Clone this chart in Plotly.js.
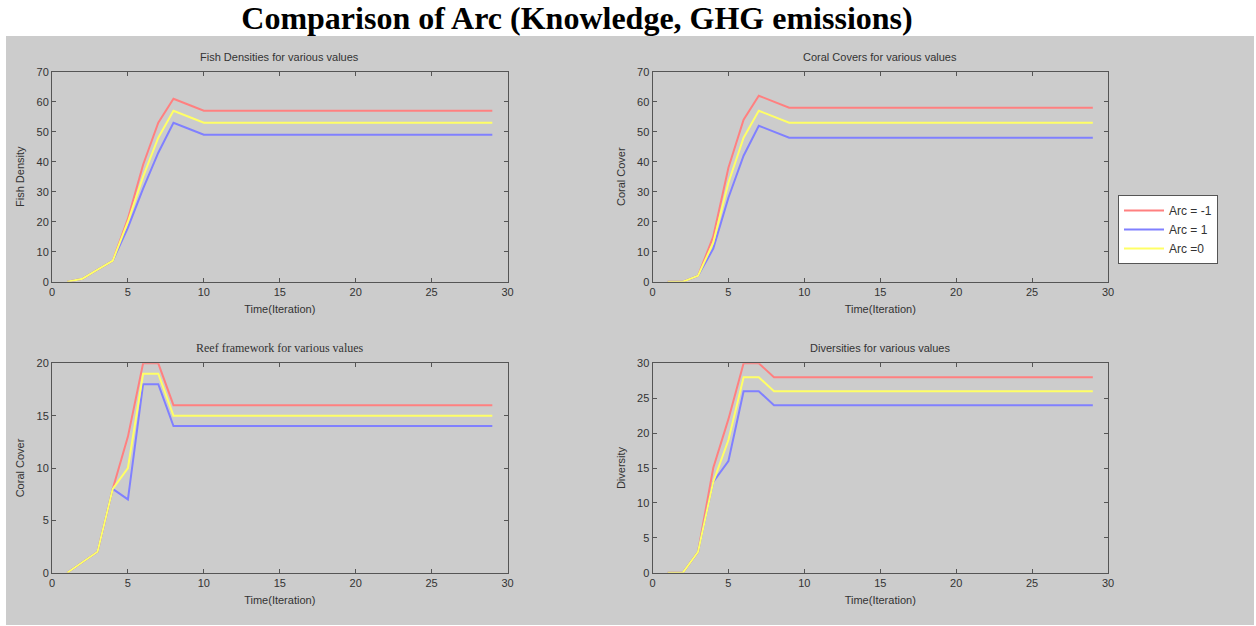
<!DOCTYPE html>
<html>
<head>
<meta charset="utf-8">
<script src="https://cdn.plot.ly/plotly-3.0.1.min.js"></script>
<style>
  html, body { margin: 0; padding: 0; background: #ffffff; }
  #chart { width: 1256px; height: 626px; }
</style>
</head>
<body>
<div id="chart"></div>
<script>
// Iteration index shared by all four panels
const iterations = [1, 2, 3, 4, 5, 6, 7, 8, 9, 10, 11, 12, 13, 14, 15, 16, 17, 18, 19, 20, 21, 22, 23, 24, 25, 26, 27, 28, 29];

const seriesNames = ['Arc = -1', 'Arc = 1', 'Arc =0'];

// Fish density per iteration
const fishArcMinus1 = [0, 1, 4, 7, 21, 39, 53, 61, 59, 57, 57, 57, 57, 57, 57, 57, 57, 57, 57, 57, 57, 57, 57, 57, 57, 57, 57, 57, 57];
const fishArc1      = [0, 1, 4, 7, 18, 31, 43, 53, 51, 49, 49, 49, 49, 49, 49, 49, 49, 49, 49, 49, 49, 49, 49, 49, 49, 49, 49, 49, 49];
const fishArc0      = [0, 1, 4, 7, 20, 35, 48, 57, 55, 53, 53, 53, 53, 53, 53, 53, 53, 53, 53, 53, 53, 53, 53, 53, 53, 53, 53, 53, 53];

// Coral cover per iteration
const coralArcMinus1 = [0, 0, 2, 15, 38, 54, 62, 60, 58, 58, 58, 58, 58, 58, 58, 58, 58, 58, 58, 58, 58, 58, 58, 58, 58, 58, 58, 58, 58];
const coralArc1      = [0, 0, 2, 11, 28, 42, 52, 50, 48, 48, 48, 48, 48, 48, 48, 48, 48, 48, 48, 48, 48, 48, 48, 48, 48, 48, 48, 48, 48];
const coralArc0      = [0, 0, 2, 13, 33, 48, 57, 55, 53, 53, 53, 53, 53, 53, 53, 53, 53, 53, 53, 53, 53, 53, 53, 53, 53, 53, 53, 53, 53];

// Reef framework per iteration
const reefArcMinus1 = [0, 1, 2, 8, 13, 20, 20, 16, 16, 16, 16, 16, 16, 16, 16, 16, 16, 16, 16, 16, 16, 16, 16, 16, 16, 16, 16, 16, 16];
const reefArc1      = [0, 1, 2, 8, 7, 18, 18, 14, 14, 14, 14, 14, 14, 14, 14, 14, 14, 14, 14, 14, 14, 14, 14, 14, 14, 14, 14, 14, 14];
const reefArc0      = [0, 1, 2, 8, 10, 19, 19, 15, 15, 15, 15, 15, 15, 15, 15, 15, 15, 15, 15, 15, 15, 15, 15, 15, 15, 15, 15, 15, 15];

// Diversity per iteration
const divArcMinus1 = [0, 0, 3, 15, 22, 30, 30, 28, 28, 28, 28, 28, 28, 28, 28, 28, 28, 28, 28, 28, 28, 28, 28, 28, 28, 28, 28, 28, 28];
const divArc1      = [0, 0, 3, 13, 16, 26, 26, 24, 24, 24, 24, 24, 24, 24, 24, 24, 24, 24, 24, 24, 24, 24, 24, 24, 24, 24, 24, 24, 24];
const divArc0      = [0, 0, 3, 13, 19, 28, 28, 26, 26, 26, 26, 26, 26, 26, 26, 26, 26, 26, 26, 26, 26, 26, 26, 26, 26, 26, 26, 26, 26];

const lineColors = ['#ff8080', '#8080ff', '#ffff66'];

const W = 1256, H = 626;
const px = v => v / W;           // horizontal pixel -> paper fraction
const py = v => (H - v) / H;     // vertical pixel (from top) -> paper fraction

const panels = [
  { ax: '',  data: [fishArcMinus1, fishArc1, fishArc0] },
  { ax: '2', data: [coralArcMinus1, coralArc1, coralArc0] },
  { ax: '3', data: [reefArcMinus1, reefArc1, reefArc0] },
  { ax: '4', data: [divArcMinus1, divArc1, divArc0] }
];

const traces = [];
panels.forEach((p, pi) => {
  p.data.forEach((ys, si) => {
    traces.push({
      x: iterations,
      y: ys,
      type: 'scatter',
      mode: 'lines',
      name: seriesNames[si],
      showlegend: pi === 0,
      line: { color: lineColors[si], width: 2 },
      xaxis: 'x' + p.ax,
      yaxis: 'y' + p.ax,
      hoverinfo: 'x+y'
    });
  });
});

const tickFont = { family: 'Arial, Liberation Sans, sans-serif', size: 11, color: '#333333' };
const labelFont = { family: 'Arial, Liberation Sans, sans-serif', size: 11, color: '#333333' };

function xAxis(domain, anchor) {
  return {
    domain: domain, anchor: anchor, range: [0, 30], dtick: 5, tick0: 0,
    showline: true, linecolor: '#555555', linewidth: 1, mirror: 'ticks',
    ticks: 'inside', ticklen: 4, tickcolor: '#555555',
    showgrid: false, zeroline: false, tickfont: tickFont,
    title: { text: 'Time(Iteration)', font: labelFont, standoff: 8 }
  };
}
function yAxis(domain, anchor, max, dtick, label) {
  return {
    domain: domain, anchor: anchor, range: [0, max], dtick: dtick, tick0: 0,
    showline: true, linecolor: '#555555', linewidth: 1, mirror: 'ticks',
    ticks: 'inside', ticklen: 4, tickcolor: '#555555',
    showgrid: false, zeroline: false, tickfont: tickFont,
    title: { text: label, font: labelFont, standoff: 9 }
  };
}

const leftX = [px(52), px(507.5)];
const rightX = [px(652.5), px(1108)];
const topY = [py(281.7), py(71.7)];
const botY = [py(572.7), py(363.3)];

const layout = {
  width: W, height: H,
  margin: { l: 0, r: 0, t: 0, b: 0 },
  paper_bgcolor: '#ffffff',
  plot_bgcolor: '#ffffff',
  title: {
    text: '<b>Comparison of Arc (Knowledge, GHG emissions)</b>',
    x: px(577), y: py(18), xanchor: 'center', yanchor: 'middle',
    font: { family: 'Liberation Serif, Times New Roman, serif', size: 32, color: '#000000' }
  },
  xaxis: xAxis(leftX, 'y'),
  yaxis: yAxis(topY, 'x', 70, 10, 'Fish Density'),
  xaxis2: xAxis(rightX, 'y2'),
  yaxis2: yAxis(topY, 'x2', 70, 10, 'Coral Cover'),
  xaxis3: xAxis(leftX, 'y3'),
  yaxis3: yAxis(botY, 'x3', 20, 5, 'Coral Cover'),
  xaxis4: xAxis(rightX, 'y4'),
  yaxis4: yAxis(botY, 'x4', 30, 5, 'Diversity'),
  shapes: [{
    type: 'rect', xref: 'paper', yref: 'paper', layer: 'below',
    x0: px(6), x1: px(1254), y0: py(625), y1: py(36),
    fillcolor: '#cccccc', line: { width: 0 }
  }],
  annotations: [
    { text: 'Fish Densities for various values', x: (leftX[0] + leftX[1]) / 2, y: py(57) },
    { text: 'Coral Covers for various values', x: (rightX[0] + rightX[1]) / 2, y: py(57) },
    { text: 'Reef framework for various values', x: (leftX[0] + leftX[1]) / 2, y: py(348), serif: true },
    { text: 'Diversities for various values', x: (rightX[0] + rightX[1]) / 2, y: py(348) }
  ].map(a => ({
    text: a.text, x: a.x, y: a.y, xref: 'paper', yref: 'paper',
    xanchor: 'center', yanchor: 'middle', showarrow: false,
    font: a.serif
      ? { family: 'Liberation Serif, Times New Roman, serif', size: 12, color: '#333333' }
      : { family: 'Arial, Liberation Sans, sans-serif', size: 11, color: '#333333' }
  })),
  legend: {
    x: px(1118), y: py(195), xanchor: 'left', yanchor: 'top',
    bgcolor: '#ffffff', bordercolor: '#555555', borderwidth: 1,
    font: { family: 'Arial, Liberation Sans, sans-serif', size: 12, color: '#333333' },
    itemwidth: 40, tracegroupgap: 0
  },
  showlegend: true
};

Plotly.newPlot('chart', traces, layout, { displayModeBar: false, staticPlot: true });
</script>
</body>
</html>
